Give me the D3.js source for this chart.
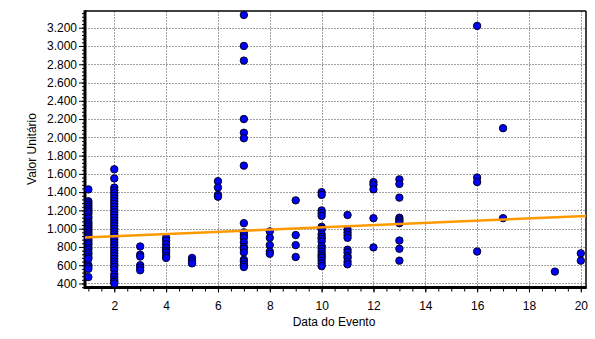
<!DOCTYPE html>
<meta charset="utf-8">
<script src="https://d3js.org/d3.v7.min.js"></script>
<style>
  body { margin: 0; background: #fff; }
  text { font-family: "Liberation Sans", Arial, sans-serif; }
</style>
<div id="my_dataviz"></div>
<script>

// event day of each column of points
var days = [1, 2, 3, 4, 5, 6, 7, 8, 9, 10, 11, 12, 13, 16, 17, 19, 20];

// unit values read for each day
var day1  = [1430, 1300, 1280, 1260, 1240, 1220, 1200, 1180, 1160, 1130, 1110, 1080, 1060, 1040, 1020, 1000, 980, 960, 940, 920, 900, 880, 860, 840, 820, 790, 770, 740, 720, 690, 670, 600, 580, 560, 470];
var day2  = [1650, 1550, 1450, 1420, 1390, 1360, 1330, 1300, 1270, 1240, 1210, 1180, 1150, 1120, 1090, 1060, 1030, 1000, 970, 940, 910, 880, 850, 820, 790, 760, 730, 700, 670, 640, 610, 580, 550, 500, 470, 440, 420, 400];
var day3  = [805, 715, 695, 600, 575, 545];
var day4  = [900, 870, 830, 790, 760, 740, 700, 680];
var day5  = [680, 650, 620];
var day6  = [1520, 1450, 1370, 1350];
var day7  = [3340, 3000, 2840, 2200, 2050, 1990, 1690, 1060, 960, 930, 900, 850, 800, 780, 740, 660, 640, 610, 580];
var day8  = [970, 900, 820, 750, 725];
var day9  = [1310, 930, 820, 690];
var day10 = [1400, 1370, 1200, 1170, 1140, 1020, 1000, 990, 940, 910, 890, 860, 810, 780, 750, 720, 700, 680, 650, 620, 590];
var day11 = [1150, 990, 960, 930, 900, 770, 740, 700, 680, 640, 610];
var day12 = [1510, 1480, 1430, 1115, 795];
var day13 = [1540, 1490, 1340, 1120, 1100, 1080, 1060, 870, 780, 650];
var day16 = [3220, 1560, 1510, 750];
var day17 = [2100, 1115];
var day19 = [530];
var day20 = [730, 650];
var valuesByDay = [day1, day2, day3, day4, day5, day6, day7, day8, day9, day10, day11, day12, day13, day16, day17, day19, day20];

// fitted trend line, end points
var trendX = [0.87, 20.2];
var trendY = [903, 1140];

// tick labels
var xTicks = [2, 4, 6, 8, 10, 12, 14, 16, 18, 20];
var yTicks = [400, 600, 800, 1000, 1200, 1400, 1600, 1800, 2000, 2200, 2400, 2600, 2800, 3000, 3200];

var points = [];
days.forEach(function(d, i) {
  valuesByDay[i].forEach(function(v) { points.push({day: d, value: v}); });
});

var width = 595, height = 339;
var plot = {left: 85, right: 586, top: 11, bottom: 287.5};

var svg = d3.select("#my_dataviz")
  .append("svg")
    .attr("width", width)
    .attr("height", height);

var x = d3.scaleLinear()
  .domain([0.87, 20.2])
  .range([plot.left, plot.right]);

var y = d3.scaleLinear()
  .domain([356, 3383])
  .range([plot.bottom, plot.top]);

var fmt = d3.formatLocale({decimal: ",", thousands: ".", grouping: [3], currency: ["", ""]}).format(",d");

// grid
svg.append("g")
  .selectAll("line")
  .data(yTicks)
  .enter()
  .append("line")
    .attr("x1", plot.left).attr("x2", plot.right)
    .attr("y1", function(d) { return Math.round(y(d)) + 0.5; })
    .attr("y2", function(d) { return Math.round(y(d)) + 0.5; })
    .attr("stroke", "#a0a0a0")
    .attr("stroke-dasharray", "2,1");

svg.append("g")
  .selectAll("line")
  .data(xTicks)
  .enter()
  .append("line")
    .attr("y1", plot.top).attr("y2", plot.bottom)
    .attr("x1", function(d) { return Math.round(x(d)) + 0.5; })
    .attr("x2", function(d) { return Math.round(x(d)) + 0.5; })
    .attr("stroke", "#a0a0a0")
    .attr("stroke-dasharray", "2,1");

// minor ticks
svg.append("g")
  .attr("transform", "translate(0," + plot.bottom + ")")
  .call(d3.axisBottom(x).tickValues(d3.range(1, 20.01, 0.5)).tickSize(4).tickFormat(""))
  .call(function(g) { g.select(".domain").remove(); });

svg.append("g")
  .attr("transform", "translate(" + plot.left + ",0)")
  .call(d3.axisLeft(y).tickValues(d3.range(360, 3381, 40)).tickSize(3).tickFormat(""))
  .call(function(g) { g.select(".domain").remove(); });

// major axes
svg.append("g")
  .attr("transform", "translate(0," + plot.bottom + ")")
  .call(d3.axisBottom(x).tickValues(xTicks).tickSize(5).tickPadding(9).tickSizeOuter(0))
  .call(function(g) {
    g.select(".domain").remove();
    g.selectAll("text").attr("font-size", 12).attr("fill", "#000").style("font-family", "Liberation Sans, Arial, sans-serif");
  });

svg.append("g")
  .attr("transform", "translate(" + plot.left + ",0)")
  .call(d3.axisLeft(y).tickValues(yTicks).tickFormat(fmt).tickSize(6).tickPadding(2).tickSizeOuter(0))
  .call(function(g) {
    g.select(".domain").remove();
    g.selectAll("text").attr("font-size", 12).attr("fill", "#000").style("font-family", "Liberation Sans, Arial, sans-serif");
  });

// frame
svg.append("line").attr("x1", plot.left).attr("x2", plot.right).attr("y1", plot.top).attr("y2", plot.top)
  .attr("stroke", "#000").attr("stroke-width", 1.5);
svg.append("line").attr("x1", plot.right).attr("x2", plot.right).attr("y1", plot.top).attr("y2", plot.bottom)
  .attr("stroke", "#000").attr("stroke-width", 1.5);
svg.append("line").attr("x1", plot.left).attr("x2", plot.left).attr("y1", plot.top - 0.75).attr("y2", plot.bottom + 1.5)
  .attr("stroke", "#000").attr("stroke-width", 3);
svg.append("line").attr("x1", plot.left).attr("x2", plot.right + 0.75).attr("y1", plot.bottom).attr("y2", plot.bottom)
  .attr("stroke", "#000").attr("stroke-width", 3);

// points
svg.append("g")
  .selectAll("circle")
  .data(points)
  .enter()
  .append("circle")
    .attr("cx", function(d) { return x(d.day); })
    .attr("cy", function(d) { return y(d.value); })
    .attr("r", 3.7)
    .style("fill", "#0000ff")
    .style("stroke", "#000022")
    .style("stroke-width", 1);

// trend line
svg.append("path")
  .datum(trendX.map(function(d, i) { return [d, trendY[i]]; }))
  .attr("d", d3.line().x(function(d) { return x(d[0]); }).y(function(d) { return y(d[1]); }))
  .attr("stroke", "#ff9900")
  .attr("stroke-width", 2.5)
  .attr("fill", "none");

// axis titles
svg.append("text")
  .attr("x", 334).attr("y", 326)
  .attr("text-anchor", "middle")
  .attr("font-size", 12)
  .text("Data do Evento");

svg.append("text")
  .attr("transform", "translate(36,149) rotate(-90)")
  .attr("text-anchor", "middle")
  .attr("font-size", 12)
  .text("Valor Unitário");

</script>
